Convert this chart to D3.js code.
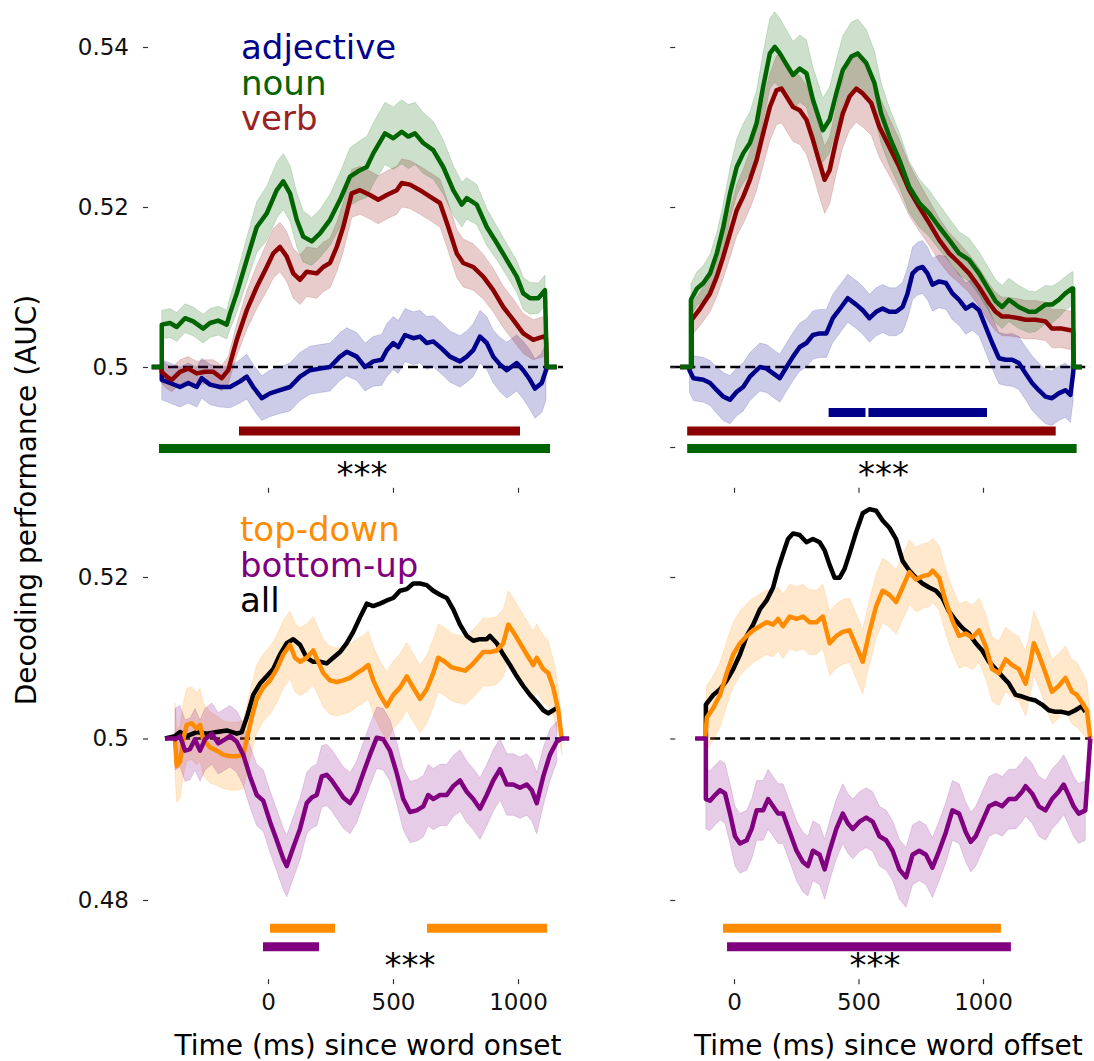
<!DOCTYPE html>
<html>
<head>
<meta charset="utf-8">
<script src="https://cdn.jsdelivr.net/npm/d3@7"></script>
<style>
  body { margin: 0; background: #fff; }
  svg { font-family: "DejaVu Sans", sans-serif; }
</style>
</head>
<body>
<svg id="chart" width="1094" height="1061"></svg>
<script>
// each point is [time in ms, AUC, sem]; the 0.5 stubs are the padding the original plot shows
let adjOnset = [[-465,.5,0],[-425,.5,0],[-425,.4984,.0025],[-392,.498,.0025],[-352,.4975,.0025],[-319,.498,.0025],[-285,.4975,.0025],[-265,.4986,.0025],[-232,.4978,.0025],[-192,.4975,.0025],[-152,.4975,.0026],[-112,.4982,.0027],[-85,.4988,.0028],[-59,.4975,.0028],[-25,.4961,.0028],[8,.4967,.0029],[48,.4971,.0029],[88,.4975,.003],[128,.4988,.003],[168,.4996,.003],[208,.4998,.003],[248,.5,.003],[288,.5013,.003],[315,.5019,.003],[355,.5013,.003],[388,.5,.003],[421,.5007,.0031],[455,.5009,.0032],[475,.5021,.0033],[501,.503,.0033],[521,.5025,.0033],[548,.504,.0033],[581,.5036,.0033],[608,.5038,.0033],[635,.503,.0033],[661,.5032,.0032],[695,.5023,.0032],[728,.5013,.0032],[768,.5007,.0032],[795,.5013,.0032],[821,.5021,.0033],[848,.5038,.0033],[875,.503,.0033],[901,.5013,.0033],[928,.5003,.0034],[955,.4996,.0035],[995,.5005,.0035],[1021,.4996,.0036],[1048,.4984,.0037],[1068,.4973,.0037],[1095,.498,.0037],[1112,.4996,.0037],[1115,.5,0],[1155,.5,0]];

let verbOnset = [[-465,.5,0],[-425,.5,0],[-425,.4994,.0015],[-405,.4988,.0015],[-385,.4984,.0015],[-352,.4994,.0015],[-319,.4998,.0015],[-285,.4992,.0015],[-252,.4994,.0015],[-219,.4994,.0015],[-185,.4986,.0016],[-159,.4996,.0017],[-125,.5034,.002],[-85,.5071,.0024],[-45,.51,.0027],[-5,.5125,.003],[21,.5142,.0031],[48,.515,.0031],[75,.5138,.0031],[101,.5117,.0031],[128,.5109,.0031],[155,.5119,.0031],[195,.5117,.0031],[221,.5125,.0031],[248,.513,.0031],[275,.515,.0031],[301,.5175,.0031],[335,.5217,.003],[368,.5221,.003],[408,.5215,.003],[441,.5209,.003],[475,.5215,.003],[515,.5221,.003],[535,.523,.003],[568,.5228,.003],[608,.5221,.003],[648,.5213,.003],[688,.5205,.003],[721,.5175,.003],[755,.5142,.003],[781,.513,.003],[821,.5125,.0029],[861,.5113,.0028],[901,.5096,.0027],[941,.5075,.0026],[981,.5059,.0026],[1021,.5042,.0025],[1061,.5034,.0025],[1101,.5038,.0025],[1112,.5036,.0025],[1115,.5,0],[1155,.5,0]];

let nounOnset = [[-465,.5,0],[-425,.5,0],[-425,.5053,.0018],[-392,.5055,.0018],[-365,.505,.0018],[-332,.5061,.0018],[-299,.5057,.0018],[-259,.5048,.0018],[-232,.5055,.0018],[-199,.5058,.0018],[-165,.5053,.0018],[-152,.5067,.002],[-125,.5092,.0024],[-85,.5134,.0028],[-45,.5175,.0032],[-5,.5192,.0034],[35,.5221,.0035],[61,.5232,.0035],[88,.5217,.0035],[115,.5184,.0034],[141,.5163,.0032],[175,.5157,.003],[208,.5167,.003],[248,.5184,.0032],[288,.5209,.0034],[328,.5238,.0036],[368,.5246,.0037],[395,.525,.0038],[421,.5267,.0038],[468,.5292,.0039],[501,.5286,.0039],[535,.5294,.004],[561,.5288,.004],[588,.5292,.0039],[621,.528,.0038],[661,.5271,.0036],[701,.525,.0034],[741,.5221,.0031],[775,.5203,.0028],[795,.5211,.0026],[835,.5203,.0025],[875,.5175,.0023],[915,.5155,.0021],[955,.5134,.002],[995,.5113,.002],[1021,.5092,.002],[1048,.5086,.002],[1081,.5086,.0019],[1108,.5096,.0019],[1115,.5,0],[1155,.5,0]];

let adjOffset = [[-216,.5,0],[-179,.5,0],[-179,.4996,.0028],[-163,.4986,.0028],[-123,.4984,.0028],[-96,.498,.0028],[-69,.4971,.0029],[-43,.4963,.003],[-16,.4959,.003],[11,.4969,.003],[37,.4975,.003],[64,.4988,.003],[104,.5,.003],[131,.4998,.003],[157,.4992,.003],[184,.4986,.003],[211,.5,.003],[237,.5013,.003],[264,.5025,.003],[291,.503,.003],[317,.504,.003],[344,.5042,.003],[371,.5042,.003],[397,.5061,.003],[431,.5075,.003],[457,.5086,.003],[491,.5078,.003],[517,.5071,.003],[544,.5061,.003],[571,.5069,.003],[597,.5073,.003],[624,.5069,.003],[651,.5069,.003],[677,.5075,.0031],[697,.5092,.0032],[717,.5117,.0033],[737,.5123,.0033],[757,.5125,.0033],[777,.5117,.0033],[797,.5103,.0033],[824,.5107,.0033],[851,.5105,.0033],[877,.5092,.0033],[904,.5084,.0032],[931,.5073,.0032],[957,.5078,.0032],[984,.5071,.0032],[1011,.505,.0032],[1037,.503,.0032],[1064,.5011,.0032],[1091,.5009,.0032],[1117,.5009,.0033],[1144,.5005,.0033],[1171,.4992,.0033],[1197,.498,.0034],[1224,.4971,.0034],[1251,.4963,.0034],[1277,.4961,.0034],[1304,.4967,.0034],[1331,.4971,.0034],[1351,.4965,.0034],[1362,.4992,.0034],[1364,.5,0],[1397,.5,0]];

let verbOffset = [[-216,.5,0],[-170,.5,0],[-170,.5059,.002],[-136,.5073,.0021],[-96,.5092,.0023],[-69,.5113,.0025],[-43,.5138,.0027],[-16,.5167,.003],[11,.5196,.0032],[37,.5213,.0034],[64,.5234,.0036],[91,.5259,.0038],[117,.5292,.004],[144,.5325,.0042],[171,.5346,.0043],[191,.5348,.0043],[211,.5338,.0043],[237,.5325,.0043],[264,.5321,.0043],[291,.5309,.0043],[317,.5284,.0043],[344,.5255,.0043],[364,.5234,.0042],[384,.5246,.0042],[411,.5284,.0042],[437,.5317,.0042],[464,.5338,.0042],[491,.5348,.0042],[517,.5342,.0042],[551,.533,.004],[584,.53,.0038],[624,.5275,.0036],[664,.525,.0034],[704,.5221,.0032],[744,.52,.003],[784,.518,.0028],[824,.5159,.0027],[864,.5142,.0026],[904,.513,.0025],[944,.5117,.0024],[984,.51,.0024],[1024,.508,.0024],[1051,.5069,.0024],[1077,.5063,.0024],[1104,.5063,.0024],[1144,.5061,.0024],[1171,.5059,.0024],[1211,.5059,.0024],[1251,.5057,.0024],[1277,.5048,.0024],[1317,.5048,.0024],[1351,.5046,.0024],[1362,.5046,.0024],[1364,.5,0],[1397,.5,0]];

let nounOffset = [[-216,.5,0],[-173,.5,0],[-173,.5084,.002],[-149,.5098,.0021],[-123,.5105,.0022],[-96,.5117,.0024],[-69,.5142,.0026],[-43,.5175,.0029],[-16,.5217,.0032],[11,.525,.0035],[37,.5267,.0037],[64,.528,.0039],[91,.5305,.0041],[117,.535,.0043],[144,.5392,.0044],[164,.54,.0044],[184,.5392,.0044],[211,.5378,.0043],[237,.5365,.0042],[264,.5373,.0042],[291,.5367,.0042],[317,.5334,.0041],[357,.5296,.004],[384,.5309,.0041],[411,.5342,.0042],[437,.5371,.0043],[471,.5388,.0043],[497,.5392,.0043],[531,.538,.0042],[564,.5355,.004],[591,.5317,.0038],[624,.5288,.0036],[664,.5259,.0034],[704,.5225,.0032],[744,.5205,.003],[784,.5192,.0029],[824,.5175,.0028],[864,.5159,.0027],[904,.5142,.0027],[944,.5134,.0027],[984,.5117,.0027],[1024,.5096,.0027],[1051,.5082,.0027],[1077,.5075,.0027],[1104,.5084,.0027],[1144,.5075,.0027],[1184,.5069,.0026],[1211,.5069,.0025],[1251,.5078,.0024],[1277,.5078,.0023],[1304,.5084,.0022],[1331,.5092,.0021],[1357,.5098,.0021],[1362,.5098,.0021],[1364,.5,0],[1397,.5,0]];

// "all" has no error band
let allOnset = [[-412,.5],[-372,.5003],[-352,.5008],[-325,.5003],[-285,.5008],[-245,.5006],[-205,.5008],[-165,.501],[-125,.5006],[-105,.5008],[-85,.5026],[-59,.5054],[-32,.5068],[-5,.5077],[21,.5086],[48,.5104],[75,.5118],[101,.5123],[128,.5116],[155,.51],[181,.5095],[208,.5095],[235,.5093],[261,.51],[288,.5107],[315,.5118],[341,.5132],[368,.515],[395,.5167],[421,.5164],[448,.5167],[475,.5171],[501,.5174],[528,.5183],[555,.5185],[581,.5192],[608,.5192],[635,.519],[661,.5183],[688,.5178],[715,.5174],[741,.516],[768,.5141],[795,.5127],[821,.5121],[848,.5123],[875,.5123],[888,.5127],[915,.5118],[941,.5104],[968,.5091],[995,.5077],[1021,.5065],[1048,.5054],[1075,.5045],[1101,.5035],[1121,.5031],[1141,.5035],[1155,.5038]];

let topdownOnset = [[-372,.4999,.0045],[-365,.4966,.0045],[-352,.4971,.0045],[-339,.4999,.0045],[-325,.5017,.0045],[-305,.5019,.0045],[-285,.5012,.0045],[-272,.5017,.0045],[-259,.4999,.0045],[-232,.4989,.0044],[-205,.4985,.0043],[-179,.498,.0042],[-152,.4978,.0042],[-125,.4978,.0042],[-99,.498,.0042],[-85,.4999,.0042],[-65,.5026,.0042],[-45,.5049,.0042],[-19,.5063,.0042],[8,.5072,.0042],[35,.5086,.0042],[61,.5104,.0042],[88,.5116,.0042],[108,.51,.0042],[128,.5095,.0042],[155,.51,.0042],[181,.5109,.0042],[201,.5095,.0042],[221,.5081,.0042],[248,.5072,.0042],[275,.507,.0042],[301,.5072,.0042],[328,.5075,.0042],[355,.5081,.0042],[381,.5086,.0042],[401,.5091,.0042],[421,.5072,.0042],[448,.5054,.0042],[475,.504,.0042],[501,.5054,.0042],[528,.5063,.0042],[555,.5077,.0042],[581,.5063,.0042],[608,.5049,.0042],[635,.5061,.0042],[661,.5081,.0042],[681,.51,.0042],[708,.5095,.0042],[735,.5088,.0042],[761,.5086,.0042],[788,.5084,.0042],[815,.5091,.0042],[841,.51,.0042],[861,.5107,.0042],[888,.5107,.0042],[915,.5109,.0042],[941,.5118,.0042],[961,.5141,.0042],[981,.5132,.0042],[1008,.5118,.0042],[1035,.5104,.0042],[1061,.5091,.0042],[1075,.51,.0042],[1101,.5086,.0042],[1121,.5081,.004],[1141,.5063,.0035],[1161,.5035,.003],[1175,.5,.002]];

let bottomupOnset = [[-412,.5,0],[-372,.5,0],[-372,.4999,.0038],[-352,.5003,.0038],[-332,.4985,.0038],[-312,.4987,.0038],[-292,.4999,.0038],[-272,.4985,.0038],[-252,.4999,.0038],[-225,.5006,.0038],[-199,.4994,.0038],[-172,.4999,.0038],[-152,.5003,.0038],[-125,.4996,.0038],[-99,.498,.0038],[-72,.4953,.0038],[-45,.493,.0038],[-19,.4923,.0038],[8,.4897,.0038],[35,.4874,.0038],[61,.4851,.0038],[75,.4842,.0038],[101,.4865,.0038],[128,.4888,.0038],[155,.492,.0038],[175,.4927,.0038],[195,.493,.0038],[215,.4953,.0038],[235,.4955,.0038],[255,.4948,.0038],[275,.4939,.0038],[301,.4927,.0038],[328,.492,.0038],[355,.4934,.0038],[381,.4957,.0038],[408,.498,.0038],[435,.5001,.0038],[461,.4999,.0038],[488,.4985,.0038],[515,.4957,.0038],[541,.4925,.0038],[568,.4909,.0038],[595,.4911,.0038],[621,.4916,.0038],[641,.493,.0038],[661,.4925,.0038],[688,.493,.0038],[715,.493,.0038],[741,.4941,.0038],[768,.4948,.0038],[795,.4934,.0038],[821,.4925,.0038],[848,.4913,.0038],[875,.493,.0038],[901,.4948,.0038],[928,.4962,.0038],[955,.4943,.0038],[981,.4943,.0038],[1008,.4939,.0038],[1035,.4943,.0038],[1055,.4936,.0038],[1075,.492,.0038],[1101,.4953,.0036],[1128,.498,.0032],[1155,.4996,.0025],[1175,.5,0],[1205,.5,0]];

let allOffset = [[-113,.5],[-113,.5042],[-83,.5054],[-56,.5061],[-29,.5072],[-3,.5086],[24,.5104],[51,.5127],[77,.5141],[104,.516],[131,.5171],[157,.5187],[177,.521],[197,.5229],[217,.5247],[237,.5254],[264,.5252],[291,.5243],[317,.5247],[344,.5243],[364,.5233],[384,.5215],[404,.5199],[424,.5199],[444,.521],[464,.5229],[491,.5256],[517,.5279],[544,.5284],[571,.5282],[597,.527],[624,.5261],[651,.5247],[677,.522],[704,.5208],[731,.5199],[757,.5192],[784,.5187],[811,.5183],[837,.5174],[864,.5157],[891,.5146],[917,.5137],[944,.513],[971,.5118],[997,.5109],[1024,.5095],[1051,.5086],[1077,.5077],[1104,.5068],[1131,.5054],[1157,.5052],[1184,.5049],[1211,.5047],[1237,.5042],[1264,.5035],[1291,.5033],[1317,.5033],[1344,.5031],[1371,.5035],[1397,.504],[1411,.5033]];

let topdownOffset = [[-116,.5,.004],[-109,.5026,.004],[-83,.5038,.004],[-56,.5054,.004],[-29,.5081,.004],[-3,.5104,.004],[24,.5118,.004],[51,.5127,.004],[77,.5134,.004],[104,.5139,.004],[131,.5144,.004],[157,.5141,.004],[177,.5148,.004],[197,.5139,.004],[224,.5151,.004],[251,.5148,.004],[277,.5151,.004],[304,.5144,.004],[331,.5144,.004],[357,.5151,.004],[384,.5118,.004],[411,.5127,.004],[437,.5132,.004],[464,.5134,.004],[491,.5114,.004],[517,.5095,.004],[544,.5132,.004],[571,.5164,.004],[597,.5183,.004],[624,.5178,.004],[651,.5169,.004],[677,.5187,.004],[704,.5206,.004],[731,.5197,.004],[757,.5201,.004],[784,.5203,.004],[797,.5208,.004],[824,.5199,.004],[851,.5169,.004],[877,.5146,.004],[904,.5127,.004],[931,.513,.004],[957,.5125,.004],[984,.5134,.004],[1011,.5114,.004],[1037,.5086,.004],[1064,.5081,.004],[1091,.5098,.004],[1117,.5091,.004],[1144,.5086,.004],[1171,.5068,.004],[1191,.5095,.004],[1204,.5118,.004],[1224,.5104,.004],[1251,.5081,.004],[1277,.5058,.004],[1304,.5065,.004],[1331,.5075,.004],[1357,.5058,.004],[1377,.5054,.004],[1397,.5045,.0038],[1417,.5035,.0035],[1431,.5,.003]];

let bottomupOffset = [[-156,.5,0],[-113,.5,0],[-113,.4925,.0037],[-96,.4923,.0037],[-76,.493,.0037],[-56,.4936,.0037],[-36,.4932,.0037],[-16,.4907,.0037],[4,.4879,.0037],[24,.487,.0037],[51,.4874,.0037],[71,.4888,.0037],[91,.4911,.0037],[117,.4911,.0037],[137,.4925,.0037],[157,.4916,.0037],[177,.4907,.0037],[197,.4907,.0037],[224,.4884,.0037],[251,.4861,.0037],[277,.4847,.0037],[297,.4842,.0037],[317,.4861,.0037],[344,.4856,.0037],[364,.4838,.0037],[384,.4861,.0037],[411,.4888,.0037],[437,.4907,.0037],[457,.4895,.0037],[477,.4888,.0037],[504,.4897,.0037],[531,.4902,.0037],[557,.4897,.0037],[584,.4879,.0037],[611,.4874,.0037],[637,.4861,.0037],[664,.4838,.0037],[691,.4828,.0037],[717,.4856,.0037],[744,.4861,.0037],[771,.4856,.0037],[797,.484,.0037],[824,.4861,.0037],[851,.4884,.0037],[877,.4911,.0037],[904,.4907,.0037],[931,.4884,.0037],[951,.4872,.0037],[971,.4879,.0037],[997,.4897,.0037],[1024,.4916,.0037],[1051,.492,.0037],[1077,.4916,.0037],[1104,.4925,.0037],[1131,.4925,.0037],[1157,.4934,.0037],[1171,.4941,.0037],[1197,.4932,.0037],[1224,.4916,.0037],[1251,.4911,.0037],[1277,.4925,.0037],[1304,.4934,.0037],[1324,.4943,.0037],[1344,.493,.0037],[1364,.4916,.0037],[1384,.4907,.0037],[1411,.4911,.0037],[1431,.5,0],[1433,.5,0]];

// significant clusters, [start ms, end ms]
let sigOnsetVerb = [[-116, 1008]];
let sigOnsetNoun = [[-436, 1128]];
let sigOffsetAdj = [[380, 528], [540, 1016]];
let sigOffsetVerb = [[-188, 1292]];
let sigOffsetNoun = [[-188, 1376]];
let sigOnsetTopdown = [[8, 268], [636, 1116]];
let sigOnsetBottomup = [[-20, 204]];
let sigOffsetTopdown = [[-44, 1072]];
let sigOffsetBottomup = [[-28, 1112]];

let xTicks = [0, 500, 1000];
let yTicksTopLeft = [0.5, 0.52, 0.54];
let yTicksTopRight = [0.49, 0.5, 0.52, 0.54];
let yTicksBottom = [0.48, 0.5, 0.52];

let legendTop = ['adjective', 'noun', 'verb'];
let legendBottom = ['top-down', 'bottom-up', 'all'];

let colors = {
  adjective: '#00008b', noun: '#006400', verb: '#8b0000',
  'top-down': '#ff8c00', 'bottom-up': '#800080', all: '#000000'
};
let legendColors = {
  adjective: '#00008b', noun: '#006400', verb: '#9b2222',
  'top-down': '#ff8c00', 'bottom-up': '#800080', all: '#000000'
};

let svg = d3.select('#chart');

let yTop = d3.scaleLinear().domain([0.48, 0.54]).range([527, 47]);
let yBottom = d3.scaleLinear().domain([0.48, 0.52]).range([900, 577]);
let xLeft = d3.scaleLinear().domain([0, 1000]).range([268, 518]);
let xRight = d3.scaleLinear().domain([0, 1000]).range([734, 983]);

let panels = [
  { x: xLeft, y: yTop, xlim: [-460, 1180], axisX: -480, axisY: 0.4849, yTicks: yTicksTopLeft, labels: true, xLabels: false, stars: 376,
    series: [['adjective', adjOnset], ['verb', verbOnset], ['noun', nounOnset]],
    bars: [['verb', sigOnsetVerb, 0.492], ['noun', sigOnsetNoun, 0.4898]] },
  { x: xRight, y: yTop, xlim: [-256, 1431], axisX: -236, axisY: 0.4849, yTicks: yTicksTopRight, labels: false, xLabels: false, stars: 600,
    series: [['adjective', adjOffset], ['verb', verbOffset], ['noun', nounOffset]],
    bars: [['adjective', sigOffsetAdj, 0.4943], ['verb', sigOffsetVerb, 0.492], ['noun', sigOffsetNoun, 0.4898]] },
  { x: xLeft, y: yBottom, xlim: [-412, 1205], axisX: -480, axisY: 0.4702, yTicks: yTicksBottom, labels: true, xLabels: true, stars: 568,
    series: [['all', allOnset], ['top-down', topdownOnset], ['bottom-up', bottomupOnset]],
    bars: [['top-down', sigOnsetTopdown, 0.4765], ['bottom-up', sigOnsetBottomup, 0.4742]] },
  { x: xRight, y: yBottom, xlim: [-156, 1433], axisX: -236, axisY: 0.4702, yTicks: yTicksBottom, labels: false, xLabels: true, stars: 566,
    series: [['all', allOffset], ['top-down', topdownOffset], ['bottom-up', bottomupOffset]],
    bars: [['top-down', sigOffsetTopdown, 0.4765], ['bottom-up', sigOffsetBottomup, 0.4742]] }
];

panels.forEach((p) => {
  let g = svg.append('g');
  let line = d3.line().x(d => p.x(d[0])).y(d => p.y(d[1]));
  let area = d3.area()
    .defined(d => d[2] > 0)
    .x(d => p.x(d[0]))
    .y0(d => p.y(d[1] - d[2]))
    .y1(d => p.y(d[1] + d[2]));

  // chance level
  g.append('line')
    .attr('x1', p.x(p.xlim[0])).attr('x2', p.x(p.xlim[1]))
    .attr('y1', p.y(0.5)).attr('y2', p.y(0.5))
    .attr('stroke', '#000').attr('stroke-width', 2.5)
    .attr('stroke-dasharray', '10,5');

  // error bands
  p.series.forEach(([name, data]) => {
    if (data[0].length < 3) return;
    g.append('path')
      .attr('d', area(data))
      .attr('fill', colors[name]).attr('fill-opacity', 0.2)
      .attr('stroke', colors[name]).attr('stroke-opacity', 0.15).attr('stroke-width', 1);
  });

  p.series.forEach(([name, data]) => {
    g.append('path')
      .attr('d', line(data))
      .attr('fill', 'none')
      .attr('stroke', colors[name]).attr('stroke-width', 4.5)
      .attr('stroke-linejoin', 'round');
  });

  // significance bars
  p.bars.forEach(([name, ranges, level]) => {
    g.selectAll(null).data(ranges).enter().append('line')
      .attr('x1', d => p.x(d[0])).attr('x2', d => p.x(d[1]))
      .attr('y1', p.y(level)).attr('y2', p.y(level))
      .attr('stroke', colors[name]).attr('stroke-width', 9);
  });

  g.append('text')
    .attr('x', p.x(p.stars)).attr('y', p.y(p.axisY) - 2)
    .attr('text-anchor', 'middle')
    .attr('font-size', 34)
    .text('***');

  // axes without spines
  let yAxis = d3.axisLeft(p.y).tickValues(p.yTicks).tickSize(5).tickPadding(14)
    .tickFormat(d => p.labels ? (d === 0.5 ? '0.5' : d.toFixed(2)) : '');
  let ya = g.append('g')
    .attr('transform', `translate(${p.x(p.axisX)},0)`)
    .call(yAxis);

  let xAxis = d3.axisBottom(p.x).tickValues(xTicks).tickSize(5).tickPadding(10)
    .tickFormat(d => p.xLabels ? d : '');
  let xa = g.append('g')
    .attr('transform', `translate(0,${p.y(p.axisY)})`)
    .call(xAxis);

  [ya, xa].forEach((a) => {
    a.select('.domain').remove();
    a.selectAll('.tick line').attr('stroke', '#333').attr('stroke-width', 1.2);
    a.selectAll('.tick text')
      .attr('font-family', '"DejaVu Sans", sans-serif')
      .attr('font-size', 23).attr('fill', '#111');
  });
});

// legends as coloured text
let legend = (names, x, y0) => {
  svg.selectAll(null).data(names).enter().append('text')
    .attr('x', x)
    .attr('y', (d, i) => y0 + i * 35.5)
    .attr('font-size', 34)
    .attr('fill', d => legendColors[d])
    .text(d => d);
};
legend(legendTop, 241, 59);
legend(legendBottom, 240, 541);

svg.append('text')
  .attr('transform', 'translate(36,500) rotate(-90)')
  .attr('text-anchor', 'middle')
  .attr('font-size', 28)
  .text('Decoding performance (AUC)');

svg.append('text')
  .attr('x', xLeft(400)).attr('y', 1055)
  .attr('text-anchor', 'middle')
  .attr('font-size', 28)
  .text('Time (ms) since word onset');

svg.append('text')
  .attr('x', xRight(620)).attr('y', 1055)
  .attr('text-anchor', 'middle')
  .attr('font-size', 28)
  .text('Time (ms) since word offset');
</script>
</body>
</html>
